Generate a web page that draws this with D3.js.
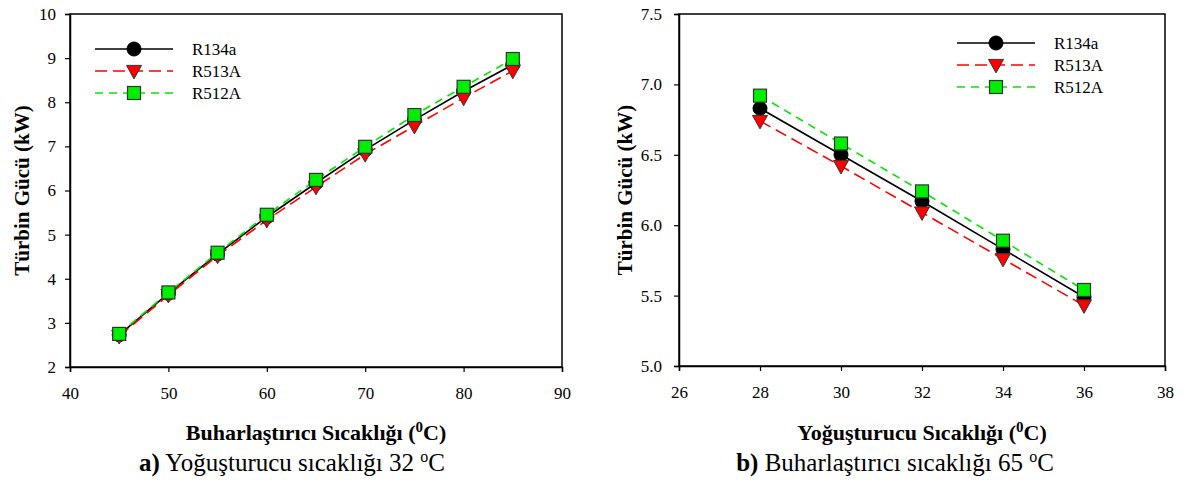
<!DOCTYPE html>
<html><head><meta charset="utf-8">
<script src="https://cdn.jsdelivr.net/npm/d3@7"></script>
<style>body{margin:0;background:#fff;}</style>
</head>
<body><svg id="c" width="1185" height="480"></svg>
<script>
const seriesNames = ["R134a", "R513A", "R512A"];
// Chart a: evaporator temperature
const evapTemps = [45, 50, 55, 60, 65, 70, 75, 80, 85];
const a_R134a = [2.73, 3.67, 4.56, 5.40, 6.17, 6.92, 7.60, 8.25, 8.85];
const a_R513A = [2.70, 3.63, 4.52, 5.33, 6.08, 6.82, 7.46, 8.10, 8.71];
const a_R512A = [2.75, 3.69, 4.59, 5.45, 6.24, 6.99, 7.71, 8.35, 8.98];
const a_xTicks = [40, 50, 60, 70, 80, 90];
const a_yTicks = [2, 3, 4, 5, 6, 7, 8, 9, 10];
// Chart b: condenser temperature
const condTemps = [28, 30, 32, 34, 36];
const b_R134a = [6.83, 6.50, 6.17, 5.83, 5.49];
const b_R513A = [6.74, 6.42, 6.09, 5.76, 5.43];
const b_R512A = [6.92, 6.58, 6.24, 5.89, 5.54];
const b_xTicks = [26, 28, 30, 32, 34, 36, 38];
const b_yTicks = [5.0, 5.5, 6.0, 6.5, 7.0, 7.5];

const FONT = "'Liberation Serif'";
const styles = [
  {color:"#000", dash:null, marker:"circle", fill:"#000"},
  {color:"#ff0000", dash:"12,6", marker:"tri", fill:"#ff0000"},
  {color:"#00e600", dash:"8,6", marker:"square", fill:"#00ee00"}
];

const svg = d3.select("#c");

function txt(sel, size, weight) {
  return sel.attr("font-family", null).style("font-family", FONT).style("font-size", size + "px").style("font-weight", weight || "normal").style("fill", "#000");
}

function marker(g, type, x, y, fill) {
  if (type === "circle") {
    g.append("circle").attr("cx", x).attr("cy", y).attr("r", 7).attr("fill", fill).attr("stroke", "#000").attr("stroke-width", 1);
  } else if (type === "tri") {
    const s = 7.5;
    g.append("path").attr("d", `M${x-s},${y-s*0.75}L${x+s},${y-s*0.75}L${x},${y+s*1.05}Z`).attr("fill", fill).attr("stroke", "#333").attr("stroke-width", 1);
  } else {
    g.append("rect").attr("x", x-6.5).attr("y", y-6.5).attr("width", 13).attr("height", 13).attr("fill", fill).attr("stroke", "#333").attr("stroke-width", 1.2);
  }
}

function drawChart(o) {
  const x = d3.scaleLinear().domain(o.xDomain).range([o.left, o.right]);
  const y = d3.scaleLinear().domain(o.yDomain).range([o.bottom, o.top]);
  const g = svg.append("g");
  g.append("rect").attr("x", o.left).attr("y", o.top).attr("width", o.right - o.left).attr("height", o.bottom - o.top)
    .attr("fill", "none").attr("stroke", "#000").attr("stroke-width", 1.5);
  const xa = g.append("g").attr("transform", `translate(0,${o.bottom})`)
    .call(d3.axisBottom(x).tickValues(o.xTicks).tickSize(5).tickPadding(15).tickFormat(d3.format("d")));
  const ya = g.append("g").attr("transform", `translate(${o.left},0)`)
    .call(d3.axisLeft(y).tickValues(o.yTicks).tickSize(5).tickPadding(o.yPad).tickFormat(o.yFmt));
  [xa, ya].forEach(a => {
    a.attr("font-family", null).style("font-family", FONT);
    a.select(".domain").attr("stroke", "#000").attr("stroke-width", 1.5);
    a.selectAll(".tick line").attr("stroke", "#000").attr("stroke-width", 1.2);
    txt(a.selectAll("text"), 17);
  });
  const line = d3.line().x(d => x(d[0])).y(d => y(d[1]));
  o.series.forEach((s, i) => {
    const pts = o.xs.map((xv, j) => [xv, s[j]]);
    g.append("path").attr("d", line(pts)).attr("fill", "none").attr("stroke", styles[i].color)
      .attr("stroke-width", 1.6).attr("stroke-dasharray", styles[i].dash);
  });
  o.series.forEach((s, i) => {
    o.xs.forEach((xv, j) => marker(g, styles[i].marker, x(xv), y(s[j]), styles[i].fill));
  });
  seriesNames.forEach((n, i) => {
    const ly = o.legY + i * 22;
    g.append("line").attr("x1", o.legX).attr("x2", o.legX + 78).attr("y1", ly).attr("y2", ly)
      .attr("stroke", styles[i].color).attr("stroke-width", 1.6).attr("stroke-dasharray", styles[i].dash);
    marker(g, styles[i].marker, o.legX + 39, ly, styles[i].fill);
    txt(g.append("text").attr("x", o.legX + 97).attr("y", ly + 6), 17).text(n);
  });
  txt(g.append("text").attr("transform", `translate(${o.yTitleX},${(o.top + o.bottom) / 2}) rotate(-90)`)
    .attr("text-anchor", "middle"), 21, "bold").text("Türbin Gücü (kW)");
  const xt = txt(g.append("text").attr("x", (o.left + o.right) / 2).attr("y", 440).attr("text-anchor", "middle"), 22, "bold");
  xt.append("tspan").text(o.xTitle + " (");
  xt.append("tspan").attr("dy", -8).style("font-size", "15px").text("0");
  xt.append("tspan").attr("dy", 8).text("C)");
  const ct = txt(g.append("text").attr("x", o.capX).attr("y", 471).attr("text-anchor", "middle"), 25);
  ct.append("tspan").style("font-weight", "bold").text(o.capBold);
  ct.append("tspan").text(" " + o.capText + " ");
  ct.append("tspan").attr("dy", -9).style("font-size", "16px").text("o");
  ct.append("tspan").attr("dy", 9).text("C");
}

drawChart({
  left: 70, right: 562, top: 14, bottom: 367,
  xDomain: [40, 90], yDomain: [2, 10], xTicks: a_xTicks, yTicks: a_yTicks,
  yFmt: d3.format("d"), yPad: 9, xs: evapTemps, series: [a_R134a, a_R513A, a_R512A],
  legX: 95, legY: 49, yTitleX: 29,
  xTitle: "Buharlaştırıcı Sıcaklığı", capX: 292, capBold: "a)", capText: "Yoğuşturucu sıcaklığı 32"
});
drawChart({
  left: 679, right: 1165, top: 14, bottom: 366,
  xDomain: [26, 38], yDomain: [5, 7.5], xTicks: b_xTicks, yTicks: b_yTicks,
  yFmt: d3.format(".1f"), yPad: 12, xs: condTemps, series: [b_R134a, b_R513A, b_R512A],
  legX: 957, legY: 43, yTitleX: 632,
  xTitle: "Yoğuşturucu Sıcaklığı", capX: 895, capBold: "b)", capText: "Buharlaştırıcı sıcaklığı 65"
});
</script></body></html>
